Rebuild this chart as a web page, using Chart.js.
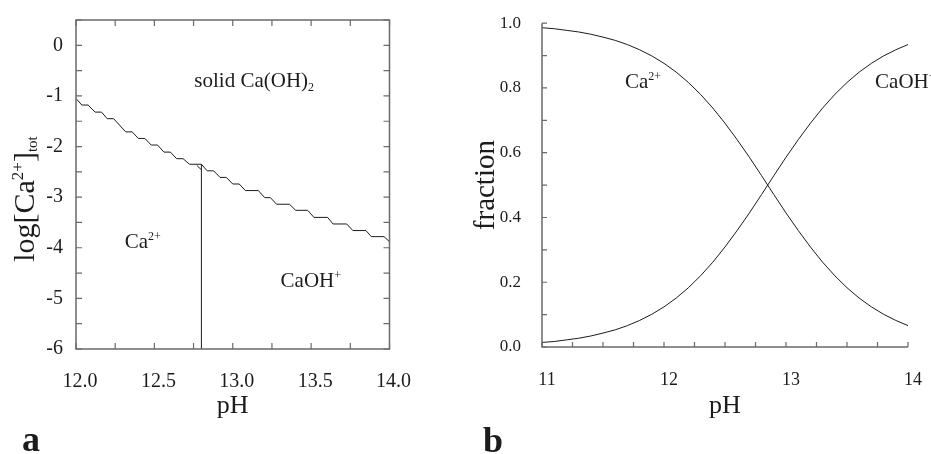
<!DOCTYPE html>
<html><head><meta charset="utf-8">
<script src="https://cdn.jsdelivr.net/npm/chart.js@4.4.1/dist/chart.umd.min.js"></script>
<style>
html,body{margin:0;padding:0;background:#fff;}
#wrap{position:relative;width:931px;height:454px;overflow:hidden;background:#fff;}
#ca{position:absolute;left:0;top:0;}
#cb{position:absolute;left:420px;top:0;}
</style></head><body>
<div id="wrap"><canvas id="ca" width="420" height="454"></canvas><canvas id="cb" width="511" height="454"></canvas></div>
<script>
// ---- panel a: solubility boundary (staircase as drawn) ----
const boundaryPH  = [12.000,12.037,12.077,12.122,12.163,12.199,12.240,12.317,12.358,12.398,12.439,12.480,12.520,12.561,12.602,12.642,12.683,12.724,12.800,12.837,12.878,12.919,12.959,13.000,13.041,13.081,13.163,13.204,13.240,13.280,13.362,13.402,13.478,13.518,13.605,13.640,13.727,13.766,13.850,13.884,13.965,14.000];
const boundaryLog = [-1.05,-1.18,-1.18,-1.32,-1.32,-1.45,-1.45,-1.71,-1.71,-1.84,-1.84,-1.97,-1.97,-2.11,-2.11,-2.24,-2.24,-2.35,-2.35,-2.48,-2.48,-2.61,-2.61,-2.74,-2.74,-2.87,-2.87,-3.01,-3.01,-3.14,-3.14,-3.26,-3.26,-3.40,-3.40,-3.53,-3.53,-3.66,-3.66,-3.78,-3.78,-3.88];
const dividerPH  = [12.80, 12.80];
const dividerLog = [-6.0, -2.35];
const notchPH  = [12.77, 12.80];
const notchLog = [-2.37, -2.46];
const aXTickLabels = [12.0, 12.5, 13.0, 13.5, 14.0];
const aYTickLabels = [0, -1, -2, -3, -4, -5, -6];

// ---- panel b: species fractions ----
const fracPH   = [11.0,11.1,11.2,11.3,11.4,11.5,11.6,11.7,11.8,11.9,12.0,12.1,12.2,12.3,12.4,12.5,12.6,12.7,12.8,12.9,13.0,13.1,13.2,13.3,13.4,13.5,13.6,13.7,13.8,13.9,14.0];
const fracCa   = [0.986,0.983,0.978,0.973,0.966,0.957,0.947,0.934,0.918,0.899,0.876,0.849,0.817,0.780,0.738,0.691,0.640,0.586,0.529,0.471,0.414,0.360,0.309,0.262,0.220,0.183,0.151,0.124,0.101,0.082,0.066];
const fracCaOH = [0.014,0.017,0.022,0.027,0.034,0.043,0.053,0.066,0.082,0.101,0.124,0.151,0.183,0.220,0.262,0.309,0.360,0.414,0.471,0.529,0.586,0.640,0.691,0.738,0.780,0.817,0.849,0.876,0.899,0.918,0.934];
const bXTickLabels = [11, 12, 13, 14];
const bYTickLabels = [0.0, 0.2, 0.4, 0.6, 0.8, 1.0];

const SERIF = '"Liberation Serif", "Times New Roman", serif';
const INK = '#1c1c1c';
const AXIS = '#6a6a6a';

function pts(xs, ys){ return xs.map((x,i)=>({x:x, y:ys[i]})); }
function near(list, v){ return list.some(t => Math.abs(t - v) < 1e-6); }

function rich(ctx, parts, x, y){
  let cx = x;
  for (const p of parts){
    ctx.font = (p.b ? 'bold ' : '') + p.s + 'px ' + SERIF;
    ctx.fillText(p.t, cx, y + (p.dy || 0));
    cx += ctx.measureText(p.t).width;
  }
  return cx - x;
}
function richWidth(ctx, parts){
  let w = 0;
  for (const p of parts){ ctx.font = (p.b ? 'bold ' : '') + p.s + 'px ' + SERIF; w += ctx.measureText(p.t).width; }
  return w;
}

function lineDs(data){
  return {data:data, showLine:true, borderColor:INK, borderWidth:1, pointRadius:0, pointHoverRadius:0, tension:0, fill:false};
}

const decor = {
  id:'decor',
  afterDatasetsDraw(chart, args, opts){
    const {ctx, chartArea:a, scales:{x, y}} = chart;
    ctx.save();
    ctx.strokeStyle = AXIS;
    ctx.lineWidth = 1.5;
    ctx.beginPath();
    if (opts.box){
      ctx.rect(a.left, a.top, a.right - a.left, a.bottom - a.top);
    } else {
      ctx.moveTo(a.left, a.top); ctx.lineTo(a.left, a.bottom); ctx.lineTo(a.right, a.bottom);
    }
    ctx.stroke();
    ctx.lineWidth = 1.2;
    ctx.beginPath();
    const L = opts.len;
    x.ticks.forEach(t => {
      const px = x.getPixelForValue(t.value);
      ctx.moveTo(px, a.bottom); ctx.lineTo(px, a.bottom - L);
      if (opts.box){ ctx.moveTo(px, a.top); ctx.lineTo(px, a.top + L); }
    });
    y.ticks.forEach(t => {
      const py = y.getPixelForValue(t.value);
      ctx.moveTo(a.left, py); ctx.lineTo(a.left + L, py);
      if (opts.box){ ctx.moveTo(a.right, py); ctx.lineTo(a.right - L, py); }
    });
    ctx.stroke();

    ctx.fillStyle = INK;
    ctx.textBaseline = 'alphabetic';
    ctx.textAlign = 'left';
    (opts.labels || []).forEach(l => {
      rich(ctx, l.parts, x.getPixelForValue(l.x), y.getPixelForValue(l.y));
    });
    if (opts.yTitle){
      const w = richWidth(ctx, opts.yTitle.parts);
      ctx.translate(opts.yTitle.x, opts.yTitle.cy + w/2);
      ctx.rotate(-Math.PI/2);
      rich(ctx, opts.yTitle.parts, 0, 0);
      ctx.setTransform(1,0,0,1,0,0);
    }
    if (opts.panel){
      rich(ctx, [{t:opts.panel.t, s:36, b:true}], opts.panel.x, opts.panel.y);
    }
    ctx.restore();
  }
};

// ---------- chart a ----------
new Chart(document.getElementById('ca'), {
  type:'scatter',
  data:{ datasets:[
    lineDs(pts(boundaryPH, boundaryLog)),
    lineDs(pts(dividerPH, dividerLog)),
    lineDs(pts(notchPH, notchLog))
  ]},
  options:{
    responsive:false, animation:false, events:[],
    layout:{padding:{left:0, top:20, right:16, bottom:0}},
    plugins:{
      legend:{display:false}, tooltip:{enabled:false},
      decor:{
        box:true, len:6,
        labels:[
          {x:12.755, y:-0.82, parts:[{t:'solid Ca(OH)', s:21},{t:'2', s:12, dy:4}]},
          {x:12.311, y:-4.01, parts:[{t:'Ca', s:21},{t:'2+', s:12, dy:-8}]},
          {x:13.305, y:-4.77, parts:[{t:'CaOH', s:21},{t:'+', s:12, dy:-8}]}
        ],
        yTitle:{x:34, cy:199, parts:[{t:'log[Ca', s:30},{t:'2+', s:17, dy:-11},{t:']', s:30},{t:'tot', s:15, dy:3}]},
        panel:{t:'a', x:22, y:451}
      }
    },
    scales:{
      x:{type:'linear', min:12, max:14,
        grid:{display:false}, border:{display:false},
        ticks:{stepSize:0.25, autoSkip:false, maxRotation:0, padding:13, labelOffset:4, color:INK,
          font:{family:SERIF, size:20},
          callback:(v)=> near(aXTickLabels, v) ? Number(v).toFixed(1) : ''},
        title:{display:true, text:'pH', color:INK, font:{family:SERIF, size:26}, padding:{top:0, bottom:32}},
        afterFit:(s)=>{ s.height = 105; }
      },
      y:{type:'linear', min:-6, max:0.5,
        grid:{display:false}, border:{display:false},
        ticks:{stepSize:0.5, autoSkip:false, padding:5, color:INK,
          font:{family:SERIF, size:20},
          callback:(v)=> near(aYTickLabels, v) ? String(Math.round(v)) : ''},
        afterFit:(s)=>{ s.width = 76; }
      }
    }
  },
  plugins:[decor]
});

// ---------- chart b ----------
new Chart(document.getElementById('cb'), {
  type:'scatter',
  data:{ datasets:[
    lineDs(pts(fracPH, fracCa)),
    lineDs(pts(fracPH, fracCaOH))
  ]},
  options:{
    responsive:false, animation:false, events:[],
    layout:{padding:{left:0, top:20, right:23, bottom:0}},
    plugins:{
      legend:{display:false}, tooltip:{enabled:false},
      decor:{
        box:false, len:5,
        labels:[
          {x:11.68, y:0.80, parts:[{t:'Ca', s:21},{t:'2+', s:12, dy:-8}]},
          {x:13.73, y:0.80, parts:[{t:'CaOH', s:21},{t:'+', s:12, dy:-8}]}
        ],
        panel:{t:'b', x:63, y:452}
      }
    },
    scales:{
      x:{type:'linear', min:11, max:14,
        grid:{display:false}, border:{display:false},
        ticks:{stepSize:0.25, autoSkip:false, maxRotation:0, padding:14, labelOffset:5, color:INK,
          font:{family:SERIF, size:18},
          callback:(v)=> near(bXTickLabels, v) ? String(Math.round(v)) : ''},
        title:{display:true, text:'pH', color:INK, font:{family:SERIF, size:26}, padding:{top:0, bottom:32}},
        afterFit:(s)=>{ s.height = 107; }
      },
      y:{type:'linear', min:0, max:1.0,
        grid:{display:false}, border:{display:false},
        ticks:{stepSize:0.1, autoSkip:false, padding:13, color:INK,
          font:{family:SERIF, size:17},
          callback:(v)=> near(bYTickLabels, v) ? Number(v).toFixed(1) : ''},
        title:{display:true, text:'fraction', color:INK, font:{family:SERIF, size:29}, padding:{top:49, bottom:0}},
        afterFit:(s)=>{ s.width = 122; }
      }
    }
  },
  plugins:[decor]
});
</script>
</body></html>
